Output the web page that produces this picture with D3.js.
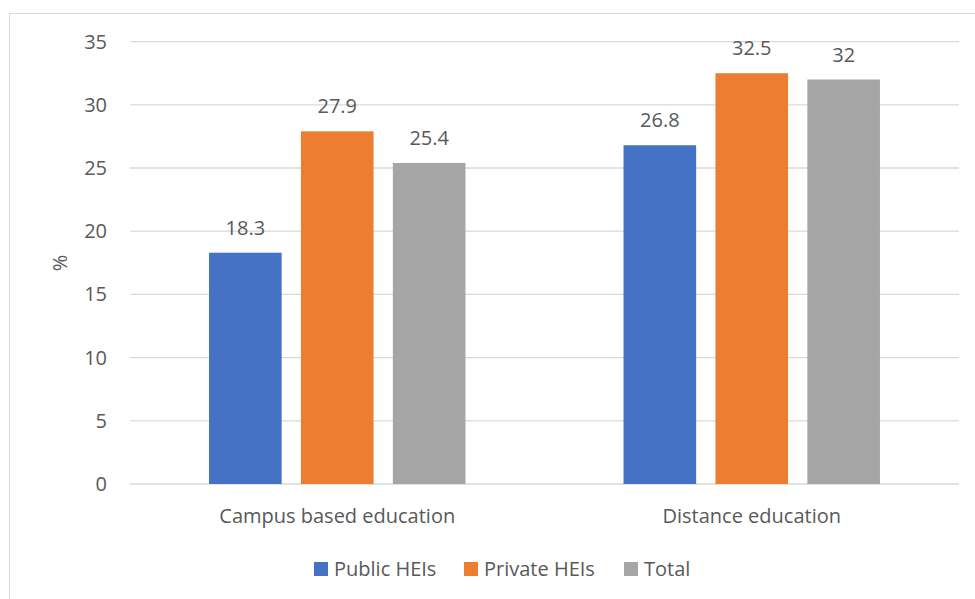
<!DOCTYPE html>
<meta charset="utf-8">
<html>
<style>
  body { margin: 0; background: #fff; }
  text { font-family: "Open Sans", sans-serif; fill: #595959; }
</style>
<div id="chartContainer"></div>
<script src="https://d3js.org/d3.v7.min.js"></script>
<script>
  // data
  var categories = ["Campus based education", "Distance education"];
  var seriesNames = ["Public HEIs", "Private HEIs", "Total"];
  var publicHEIs = [18.3, 26.8];
  var privateHEIs = [27.9, 32.5];
  var totalValues = [25.4, 32];
  var yTicks = [0, 5, 10, 15, 20, 25, 30, 35];
  var colors = ["#4472C4", "#ED7D31", "#A5A5A5"];

  var seriesValues = [publicHEIs, privateHEIs, totalValues];

  var width = 975, height = 599;
  var svg = d3.select("#chartContainer").append("svg")
    .attr("width", width).attr("height", height);

  // chart frame (runs off the bottom / right of the picture)
  svg.append("rect")
    .attr("x", 9.5).attr("y", 13.5)
    .attr("width", 975).attr("height", 600)
    .attr("fill", "none").attr("stroke", "#d9d9d9");

  // note: "top" clashes with window.top, so use plot* names
  var plotLeft = 130, plotRight = 959, plotTop = 41.6, plotBottom = 484;

  var y = d3.scaleLinear().domain([0, 35]).range([plotBottom, plotTop]);
  var x0 = d3.scaleBand().domain(categories).range([plotLeft, plotRight]).padding(0);
  var x1 = d3.scaleBand().domain(seriesNames)
    .range([0, x0.bandwidth()])
    .paddingInner(0.21).paddingOuter(0.86);

  // gridlines
  svg.append("g").selectAll("line")
    .data(yTicks).enter().append("line")
    .attr("x1", plotLeft).attr("x2", plotRight)
    .attr("y1", function (d) { return y(d); })
    .attr("y2", function (d) { return y(d); })
    .attr("stroke", "#d9d9d9").attr("stroke-width", 1.3);

  // y tick labels
  svg.append("g").selectAll("text")
    .data(yTicks).enter().append("text")
    .attr("x", 107)
    .attr("y", function (d) { return y(d) + 7; })
    .attr("text-anchor", "end")
    .style("font-size", "20px")
    .text(function (d) { return d; });

  // y axis title
  svg.append("text")
    .attr("transform", "translate(67,263) rotate(-90)")
    .attr("text-anchor", "middle")
    .style("font-size", "20px")
    .text("%");

  // bars and value labels
  seriesNames.forEach(function (name, si) {
    var g = svg.append("g");
    var vals = seriesValues[si];
    g.selectAll("rect")
      .data(categories).enter().append("rect")
      .attr("x", function (c) { return x0(c) + x1(name); })
      .attr("width", x1.bandwidth())
      .attr("y", function (c, i) { return y(vals[i]); })
      .attr("height", function (c, i) { return plotBottom - y(vals[i]); })
      .attr("fill", colors[si]);
    g.selectAll("text")
      .data(categories).enter().append("text")
      .attr("x", function (c) { return x0(c) + x1(name) + x1.bandwidth() / 2; })
      .attr("y", function (c, i) { return y(vals[i]) - 18; })
      .attr("text-anchor", "middle")
      .style("font-size", "20px")
      .text(function (c, i) { return vals[i]; });
  });

  // category labels
  svg.append("g").selectAll("text")
    .data(categories).enter().append("text")
    .attr("x", function (c) { return x0(c) + x0.bandwidth() / 2; })
    .attr("y", 523)
    .attr("text-anchor", "middle")
    .style("font-size", "20px")
    .text(function (c) { return c; });

  // legend
  var legendX = [314, 464, 624];
  var lg = svg.append("g");
  seriesNames.forEach(function (name, si) {
    lg.append("rect")
      .attr("x", legendX[si]).attr("y", 562)
      .attr("width", 14).attr("height", 14)
      .attr("fill", colors[si]);
    lg.append("text")
      .attr("x", legendX[si] + 20).attr("y", 576)
      .style("font-size", "20px")
      .text(name);
  });
</script>
</html>
